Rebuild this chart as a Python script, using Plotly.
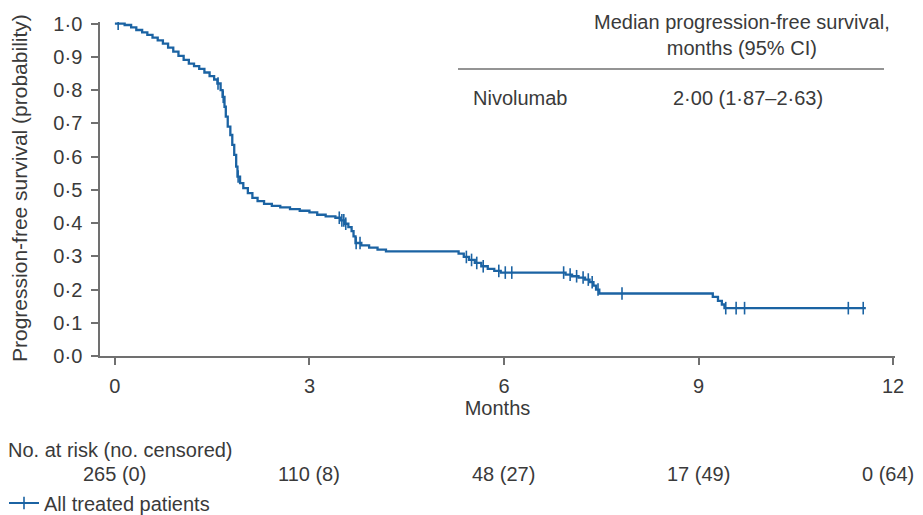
import numpy as np
import plotly.graph_objects as go

# ---- data ----
step_time = [0.0, 0.15, 0.25, 0.33, 0.42, 0.50, 0.58, 0.66, 0.74, 0.82, 0.90, 0.98,
             1.06, 1.14, 1.22, 1.30, 1.38, 1.46, 1.53, 1.58, 1.63, 1.66, 1.69, 1.71,
             1.74, 1.78, 1.81, 1.84, 1.87, 1.89, 1.93, 1.98, 2.05, 2.12, 2.20, 2.30,
             2.42, 2.55, 2.70, 2.85, 3.00, 3.12, 3.25, 3.40, 3.48, 3.55, 3.60, 3.65,
             3.68, 3.71, 3.80, 3.92, 4.05, 4.18, 5.30, 5.38, 5.46, 5.55, 5.65, 5.75,
             5.85, 5.95, 6.95, 7.05, 7.15, 7.25, 7.32, 7.38, 7.42, 7.47, 9.22, 9.30,
             9.36, 9.40, 11.58]
step_surv = [1.000, 0.996, 0.989, 0.981, 0.974, 0.966, 0.958, 0.950, 0.940, 0.928, 0.916, 0.903,
             0.891, 0.880, 0.872, 0.864, 0.853, 0.842, 0.832, 0.820, 0.800, 0.780, 0.750, 0.720,
             0.690, 0.665, 0.635, 0.605, 0.570, 0.540, 0.520, 0.505, 0.490, 0.476, 0.466, 0.458,
             0.452, 0.447, 0.442, 0.437, 0.432, 0.425, 0.420, 0.416, 0.408, 0.398, 0.388, 0.376,
             0.360, 0.340, 0.333, 0.326, 0.320, 0.315, 0.308, 0.298, 0.289, 0.280, 0.270, 0.262,
             0.256, 0.251, 0.245, 0.240, 0.236, 0.230, 0.222, 0.212, 0.200, 0.188, 0.178, 0.166,
             0.155, 0.144, 0.144]
censor_time = [0.05, 1.59, 1.67, 1.90, 3.46, 3.50, 3.53, 3.56, 3.72, 3.78, 5.42, 5.50,
               5.58, 5.68, 5.92, 6.02, 6.12, 6.92, 7.02, 7.12, 7.22, 7.30, 7.36, 7.45,
               7.82, 9.42, 9.58, 9.71, 11.31, 11.54]

x_ticks = [0, 3, 6, 9, 12]
y_ticks = [0.0, 0.1, 0.2, 0.3, 0.4, 0.5, 0.6, 0.7, 0.8, 0.9, 1.0]
y_ticktext = ["0·0", "0·1", "0·2", "0·3", "0·4", "0·5", "0·6", "0·7", "0·8", "0·9", "1·0"]
risk_labels = ["265 (0)", "110 (8)", "48 (27)", "17 (49)", "0 (64)"]

# survival at each censor time (step lookup)
idx = np.searchsorted(np.array(step_time), np.array(censor_time), side="right") - 1
censor_surv = [step_surv[i] for i in idx]

BLUE = "#1b63a3"
TXT = "#3a3a3a"
AX = "#707070"
FONT = "Liberation Sans, Arial, sans-serif"
FS = 20

fig = go.Figure()
fig.add_trace(go.Scatter(x=step_time, y=step_surv, mode="lines", line_shape="hv",
                         line=dict(color=BLUE, width=2.3), showlegend=False,
                         hoverinfo="skip"))
fig.add_trace(go.Scatter(x=censor_time, y=censor_surv, mode="markers",
                         marker=dict(symbol="line-ns-open", size=9, color=BLUE,
                                     line=dict(color=BLUE, width=1.6)),
                         showlegend=False))
fig.add_trace(go.Scatter(x=[None], y=[None], mode="lines+markers",
                         name="All treated patients",
                         line=dict(color=BLUE, width=2),
                         marker=dict(symbol="line-ns-open", size=9, color=BLUE,
                                     line=dict(color=BLUE, width=1.6))))

W, H = 923, 515
L, R, T, B = 100, 28, 22, 159

ph = H - T - B
pw = W - L - R
def py(pix):
    return 1 - (pix - T) / ph
def px(pix):
    return (pix - L) / pw

fig.update_layout(
    width=W, height=H,
    margin=dict(l=L, r=R, t=T, b=B, autoexpand=False),
    paper_bgcolor="white", plot_bgcolor="white",
    font=dict(family=FONT, color=TXT, size=FS),
    showlegend=True,
    legend=dict(xref="paper", yref="paper", x=px(4), y=py(503),
                xanchor="left", yanchor="middle", orientation="h",
                font=dict(size=FS, color=TXT), bgcolor="rgba(0,0,0,0)",
                itemwidth=30),
    xaxis=dict(range=[-0.23, 12.03], tickvals=x_ticks,
               ticktext=[str(v) for v in x_ticks],
               showgrid=False, zeroline=False, showline=True, linecolor=AX,
               linewidth=1.5, ticks="outside", ticklen=7, tickcolor=AX, tickwidth=1.5,
               ticklabelstandoff=4,
               tickfont=dict(size=FS, color=TXT),
               title=dict(text="Months", font=dict(size=FS, color=TXT), standoff=3)),
    yaxis=dict(range=[0, 1.005], tickvals=y_ticks, ticktext=y_ticktext,
               showgrid=False, zeroline=False, showline=True, linecolor=AX,
               linewidth=1.5, ticks="outside", ticklen=7, tickcolor=AX, tickwidth=1.5,
               ticklabelstandoff=5,
               tickfont=dict(size=FS, color=TXT)),
)

# y-axis title
fig.add_annotation(text="Progression-free survival (probability)", textangle=-90,
                   xref="paper", yref="paper", x=px(19), y=py(188),
                   xanchor="center", yanchor="middle", showarrow=False,
                   font=dict(size=21, color=TXT))

# median table
fig.add_annotation(text="Median progression-free survival,<br>months (95% CI)",
                   xref="paper", yref="paper", x=px(742), y=py(35),
                   xanchor="center", yanchor="middle", showarrow=False, align="center",
                   font=dict(size=FS, color=TXT))
fig.add_shape(type="line", xref="paper", yref="paper", x0=px(458), x1=px(884),
              y0=py(69), y1=py(69), line=dict(color=AX, width=1.5))
fig.add_annotation(text="Nivolumab", xref="paper", yref="paper", x=px(471), y=py(98),
                   xanchor="left", yanchor="middle", showarrow=False,
                   font=dict(size=FS, color=TXT))
fig.add_annotation(text="2·00 (1·87–2·63)", xref="paper", yref="paper", x=px(748), y=py(98),
                   xanchor="center", yanchor="middle", showarrow=False,
                   font=dict(size=FS, color=TXT))

# risk table
fig.add_annotation(text="No. at risk (no. censored)", xref="paper", yref="paper",
                   x=px(6), y=py(450), xanchor="left", yanchor="middle", showarrow=False,
                   font=dict(size=FS, color=TXT))
for i, (xv, lab) in enumerate(zip(x_ticks, risk_labels)):
    fig.add_annotation(text=lab, xref="x", yref="paper", x=xv, y=py(474),
                       xanchor="center", yanchor="middle", showarrow=False,
                       xshift=-5 if i == len(x_ticks) - 1 else 0,
                       font=dict(size=FS, color=TXT))

fig.write_html("out.html", config={"displayModeBar": False},
               post_script="document.body.style.margin='0';document.body.style.padding='0';")
